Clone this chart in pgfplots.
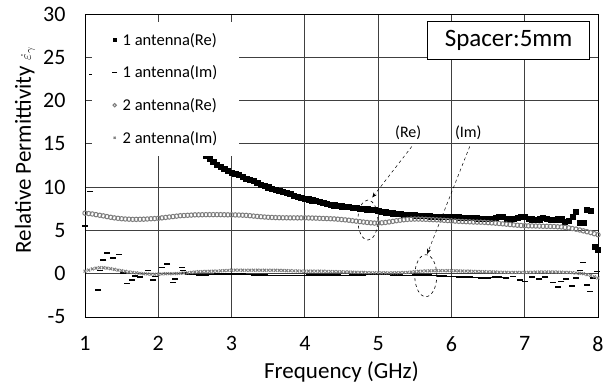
\documentclass[border=0pt]{standalone}
\usepackage{pgfplots}
\pgfplotsset{compat=1.18}
\usepackage{fontspec}
\setmainfont{Carlito}
\usetikzlibrary{arrows.meta}
\definecolor{cgray}{RGB}{125,125,125}
\definecolor{xgray}{RGB}{125,125,125}
\begin{document}
\begin{tikzpicture}[x=1bp,y=1bp]
\begin{axis}[
  name=ax,
  width=513bp, height=303bp, scale only axis,
  xmin=1, xmax=8, ymin=-5, ymax=30,
  xtick={1,2,3,4,5,6,7,8},
  ytick={-5,0,5,10,15,20,25,30},
  major tick length=0pt,
  grid=major,
  major grid style={black!75, line width=0.9bp},
  axis line style={black, line width=0.9bp},
  clip=false,
  /pgf/number format/assume math mode=true,
  tick label style={font=\fontsize{22bp}{26bp}\selectfont},
  xticklabel style={yshift=-16bp},
  yticklabel style={xshift=-16bp},
  xlabel={Frequency (GHz)},
  xlabel style={font=\fontsize{23bp}{27bp}\selectfont, at={(axis description cs:0.5,-0.18)}, anchor=center},
  ylabel={Relative Permittivity\hspace{6bp}{\fontsize{15bp}{15bp}\selectfont$\dot{\varepsilon}_{\gamma}$}},
  ylabel style={font=\fontsize{23bp}{27bp}\selectfont, at={(axis description cs:-0.117,0.551)}, anchor=center},
  legend image code/.code={\draw[mark repeat=1,#1] plot coordinates {(0bp,0bp)};},
  legend style={at={(axis description cs:0.0136,0.975)}, anchor=north west,
    fill=white, draw=none, font=\fontsize{16.5bp}{19bp}\selectfont,
    row sep=16bp, inner xsep=20bp, inner ysep=10bp,
    nodes={inner sep=1.5bp},
    /tikz/every odd column/.append style={column sep=4bp}},
  legend cell align=left,
]
% 1 antenna (Re)
\addplot[only marks, mark=square*, mark size=2.6bp, mark options={fill=black, draw=black}, legend image post style={mark size=1.4bp}] coordinates {
(2.60,14.0) (2.65,13.6) (2.70,13.3) (2.75,12.9) (2.80,12.6) (2.85,12.35) (2.90,12.1) (2.95,11.9) (3.00,11.7) (3.05,11.55) (3.10,11.4) (3.15,11.2) (3.20,11.0) (3.25,10.85) (3.30,10.7) (3.35,10.5) (3.40,10.3) (3.45,10.15) (3.50,10.0) (3.55,9.85) (3.60,9.7) (3.65,9.6) (3.70,9.5) (3.75,9.35) (3.80,9.2) (3.85,9.05) (3.90,8.9) (3.95,8.8) (4.00,8.7) (4.05,8.6) (4.10,8.5) (4.15,8.4) (4.20,8.3) (4.25,8.2) (4.30,8.1) (4.35,8.0) (4.40,7.92) (4.45,7.85) (4.50,7.8) (4.55,7.75) (4.60,7.7) (4.65,7.65) (4.70,7.6) (4.75,7.55) (4.80,7.5) (4.85,7.45) (4.90,7.4) (4.95,7.35) (5.00,7.3) (5.05,7.2) (5.10,7.1) (5.15,7.05) (5.20,7.0) (5.25,6.95) (5.30,6.9) (5.35,6.85) (5.40,6.8) (5.45,6.78) (5.50,6.75) (5.55,6.72) (5.60,6.7) (5.65,6.68) (5.70,6.65) (5.75,6.62) (5.80,6.6) (5.85,6.58) (5.90,6.57) (5.95,6.56) (6.00,6.55) (6.05,6.54) (6.10,6.52) (6.15,6.51) (6.20,6.5) (6.25,6.48) (6.30,6.45) (6.35,6.42) (6.40,6.4) (6.45,6.38) (6.50,6.35) (6.55,6.4) (6.60,6.5) (6.65,6.6) (6.70,6.55) (6.75,6.35) (6.80,6.3) (6.85,6.4) (6.90,6.5) (6.95,6.6) (7.00,6.6) (7.05,6.4) (7.10,6.3) (7.15,6.25) (7.20,6.3) (7.25,6.45) (7.30,6.4) (7.35,6.25) (7.40,6.2) (7.45,6.3) (7.50,6.3) (7.55,6.0) (7.60,6.1) (7.65,6.6) (7.70,7.2) (7.75,5.9) (7.80,5.9) (7.85,7.4) (7.90,7.3) (7.95,3.1) (8.00,2.8)
};
\addlegendentry{1 antenna(Re)}
% 1 antenna (Im)
\addplot[only marks, mark=-, mark size=3bp, mark options={line width=1.6bp, draw=black}, legend image post style={mark size=2.5bp}] coordinates {
(1.00,5.5) (1.07,9.5) (1.10,23.0) (1.18,-1.85) (1.20,0.35) (1.25,1.6) (1.30,2.4) (1.38,1.8) (1.46,2.2) (1.52,0.1) (1.57,-1.15) (1.64,-0.7) (1.68,-0.25) (1.75,-0.35) (1.86,0.35) (1.93,-0.7) (1.95,-0.3) (2.05,0.7) (2.12,1.15) (2.20,-1.0) (2.23,-0.6) (2.32,0.7) (2.34,0.35) (2.37,0.1)
(2.40,-0.05) (2.45,-0.1) (2.50,-0.1) (2.55,-0.12) (2.60,-0.15) (2.65,-0.12) (2.70,-0.1) (2.75,-0.07) (2.80,-0.05) (2.85,-0.02) (2.90,0.0) (2.95,0.0) (3.00,0.0) (3.05,-0.02) (3.10,-0.03) (3.15,-0.05) (3.20,-0.07) (3.25,-0.1) (3.30,-0.12) (3.35,-0.15) (3.40,-0.17) (3.45,-0.18) (3.50,-0.2) (3.55,-0.2) (3.60,-0.2) (3.65,-0.22) (3.70,-0.22) (3.75,-0.2) (3.80,-0.2) (3.85,-0.2) (3.90,-0.22) (3.95,-0.2) (4.00,-0.2) (4.05,-0.18) (4.10,-0.17) (4.15,-0.15) (4.20,-0.15) (4.25,-0.15) (4.30,-0.14) (4.35,-0.15) (4.40,-0.17) (4.45,-0.18) (4.50,-0.2) (4.55,-0.2) (4.60,-0.2) (4.65,-0.18) (4.70,-0.17) (4.75,-0.15) (4.80,-0.12) (4.85,-0.1) (4.90,-0.08) (4.95,-0.06) (5.00,-0.05) (5.05,-0.06) (5.10,-0.08) (5.15,-0.1) (5.20,-0.12) (5.25,-0.15) (5.30,-0.18) (5.35,-0.2) (5.40,-0.22) (5.45,-0.2) (5.50,-0.17) (5.55,-0.15) (5.60,-0.15) (5.65,-0.17) (5.70,-0.18) (5.75,-0.2) (5.80,-0.22) (5.85,-0.25) (5.90,-0.27) (5.95,-0.3) (6.00,-0.32) (6.05,-0.33) (6.10,-0.35) (6.15,-0.35) (6.20,-0.38) (6.25,-0.4) (6.30,-0.42) (6.35,-0.45) (6.40,-0.47) (6.45,-0.5) (6.50,-0.5) (6.55,-0.45) (6.60,-0.4) (6.65,-0.35) (6.70,-0.45) (6.75,-0.5)
(6.84,-0.3) (6.93,-0.7) (7.00,-0.9) (7.10,-0.35) (7.20,-0.6) (7.28,-0.4) (7.38,-1.0) (7.45,-1.5) (7.50,-0.9) (7.57,-0.6) (7.64,-1.4) (7.70,-0.5) (7.75,0.35) (7.79,1.3) (7.85,-1.3) (7.89,-2.05) (7.93,-0.5) (7.98,0.25)
};
\addlegendentry{1 antenna(Im)}
% 2 antenna (Re)
\addplot[only marks, mark=o, mark size=2.2bp, mark options={draw=cgray, line width=1bp}, legend image post style={mark size=1.7bp}] coordinates {
(1.00,7.00) (1.05,6.95) (1.10,6.90) (1.15,6.82) (1.20,6.75) (1.25,6.68) (1.30,6.60) (1.35,6.52) (1.40,6.45) (1.45,6.40) (1.50,6.35) (1.55,6.32) (1.60,6.30) (1.65,6.28) (1.70,6.28) (1.75,6.29) (1.80,6.30) (1.85,6.32) (1.90,6.35) (1.95,6.37) (2.00,6.40) (2.05,6.45) (2.10,6.50) (2.15,6.55) (2.20,6.60) (2.25,6.65) (2.30,6.70) (2.35,6.72) (2.40,6.75) (2.45,6.77) (2.50,6.80) (2.55,6.80) (2.60,6.81) (2.65,6.82) (2.70,6.82) (2.75,6.82) (2.80,6.82) (2.85,6.82) (2.90,6.81) (2.95,6.80) (3.00,6.80) (3.05,6.79) (3.10,6.78) (3.15,6.76) (3.20,6.74) (3.25,6.70) (3.30,6.66) (3.35,6.62) (3.40,6.58) (3.45,6.55) (3.50,6.52) (3.55,6.50) (3.60,6.48) (3.65,6.47) (3.70,6.46) (3.75,6.46) (3.80,6.45) (3.85,6.45) (3.90,6.45) (3.95,6.45) (4.00,6.45) (4.05,6.44) (4.10,6.43) (4.15,6.42) (4.20,6.40) (4.25,6.38) (4.30,6.37) (4.35,6.35) (4.40,6.33) (4.45,6.30) (4.50,6.26) (4.55,6.22) (4.60,6.18) (4.65,6.12) (4.70,6.07) (4.75,6.02) (4.80,5.97) (4.85,5.92) (4.90,5.88) (4.95,5.85) (5.00,5.85) (5.05,5.88) (5.10,5.92) (5.15,5.98) (5.20,6.05) (5.25,6.12) (5.30,6.18) (5.35,6.23) (5.40,6.27) (5.45,6.30) (5.50,6.31) (5.55,6.31) (5.60,6.30) (5.65,6.28) (5.70,6.26) (5.75,6.24) (5.80,6.22) (5.85,6.20) (5.90,6.17) (5.95,6.14) (6.00,6.10) (6.05,6.08) (6.10,6.05) (6.15,6.03) (6.20,6.01) (6.25,5.99) (6.30,5.97) (6.35,5.96) (6.40,5.95) (6.45,5.93) (6.50,5.90) (6.55,5.87) (6.60,5.84) (6.65,5.80) (6.70,5.76) (6.75,5.72) (6.80,5.68) (6.85,5.64) (6.90,5.60) (6.95,5.57) (7.00,5.55) (7.05,5.53) (7.10,5.52) (7.15,5.51) (7.20,5.50) (7.25,5.48) (7.30,5.47) (7.35,5.46) (7.40,5.45) (7.45,5.42) (7.50,5.40) (7.55,5.35) (7.60,5.30) (7.65,5.22) (7.70,5.15) (7.75,5.05) (7.80,4.95) (7.85,4.85) (7.90,4.75) (7.95,4.62) (8.00,4.50)
};
\addlegendentry{2 antenna(Re)}
% 2 antenna (Im)
\addplot[only marks, mark=x, mark size=2bp, mark options={draw=xgray, line width=1bp}, legend image post style={mark size=1.4bp}] coordinates {
(1.00,0.30) (1.05,0.42) (1.10,0.55) (1.15,0.64) (1.20,0.70) (1.25,0.69) (1.30,0.65) (1.35,0.58) (1.40,0.50) (1.45,0.42) (1.50,0.35) (1.55,0.27) (1.60,0.20) (1.65,0.15) (1.70,0.10) (1.75,0.05) (1.80,0.00) (1.85,-0.03) (1.90,-0.05) (1.95,-0.06) (2.00,-0.05) (2.05,-0.03) (2.10,0.00) (2.15,0.00) (2.20,0.00) (2.25,0.02) (2.30,0.05) (2.35,0.08) (2.40,0.10) (2.45,0.15) (2.50,0.20) (2.55,0.23) (2.60,0.25) (2.65,0.27) (2.70,0.28) (2.75,0.29) (2.80,0.30) (2.85,0.33) (2.90,0.36) (2.95,0.38) (3.00,0.40) (3.05,0.41) (3.10,0.41) (3.15,0.40) (3.20,0.40) (3.25,0.40) (3.30,0.41) (3.35,0.41) (3.40,0.40) (3.45,0.40) (3.50,0.40) (3.55,0.40) (3.60,0.40) (3.65,0.39) (3.70,0.38) (3.75,0.36) (3.80,0.35) (3.85,0.33) (3.90,0.32) (3.95,0.31) (4.00,0.30) (4.05,0.30) (4.10,0.30) (4.15,0.30) (4.20,0.30) (4.25,0.29) (4.30,0.27) (4.35,0.26) (4.40,0.25) (4.45,0.23) (4.50,0.22) (4.55,0.21) (4.60,0.20) (4.65,0.18) (4.70,0.17) (4.75,0.16) (4.80,0.15) (4.85,0.13) (4.90,0.12) (4.95,0.11) (5.00,0.10) (5.05,0.10) (5.10,0.10) (5.15,0.10) (5.20,0.10) (5.25,0.11) (5.30,0.12) (5.35,0.14) (5.40,0.15) (5.45,0.19) (5.50,0.23) (5.55,0.27) (5.60,0.30) (5.65,0.32) (5.70,0.33) (5.75,0.34) (5.80,0.35) (5.85,0.35) (5.90,0.35) (5.95,0.35) (6.00,0.35) (6.05,0.34) (6.10,0.32) (6.15,0.31) (6.20,0.30) (6.25,0.29) (6.30,0.27) (6.35,0.26) (6.40,0.25) (6.45,0.23) (6.50,0.22) (6.55,0.21) (6.60,0.20) (6.65,0.18) (6.70,0.17) (6.75,0.16) (6.80,0.15) (6.85,0.15) (6.90,0.15) (6.95,0.15) (7.00,0.15) (7.05,0.16) (7.10,0.17) (7.15,0.19) (7.20,0.20) (7.25,0.20) (7.30,0.20) (7.35,0.20) (7.40,0.20) (7.45,0.19) (7.50,0.18) (7.55,0.16) (7.60,0.15) (7.65,0.12) (7.70,0.08) (7.75,0.04) (7.80,0.00) (7.85,-0.10) (7.90,-0.20) (7.95,-0.35) (8.00,-0.50)
};
\addlegendentry{2 antenna(Im)}
% annotations
\node[draw=black, fill=white, line width=0.8bp, minimum width=162bp, minimum height=38bp, inner sep=0pt, font=\fontsize{25bp}{29bp}\selectfont] at (axis cs:6.78,26.9) {Spacer:5mm};
\node[font=\fontsize{16bp}{19bp}\selectfont] at (axis cs:5.41,16.3) {(Re)};
\node[font=\fontsize{16bp}{19bp}\selectfont] at (axis cs:6.23,16.3) {(Im)};
\draw[dashed, line width=0.5bp, -{Stealth[length=5bp,width=4bp]}] (axis cs:5.46,14.7) -- (axis cs:4.92,8.8);
\draw[dashed, line width=0.5bp, -{Stealth[length=5bp,width=4bp]}] (axis cs:6.25,14.7) -- (axis cs:5.67,2.3);
\draw[dashed, line width=0.6bp] (axis cs:4.86,6.2) ellipse [x radius=10bp, y radius=20bp];
\draw[dashed, line width=0.6bp] (axis cs:5.65,-0.23) ellipse [x radius=11bp, y radius=21bp];
\end{axis}
\pgfresetboundingbox
\path[use as bounding box] ([xshift=-85bp,yshift=-70bp]ax.south west) rectangle ++(614bp,387bp);
\end{tikzpicture}
\end{document}
